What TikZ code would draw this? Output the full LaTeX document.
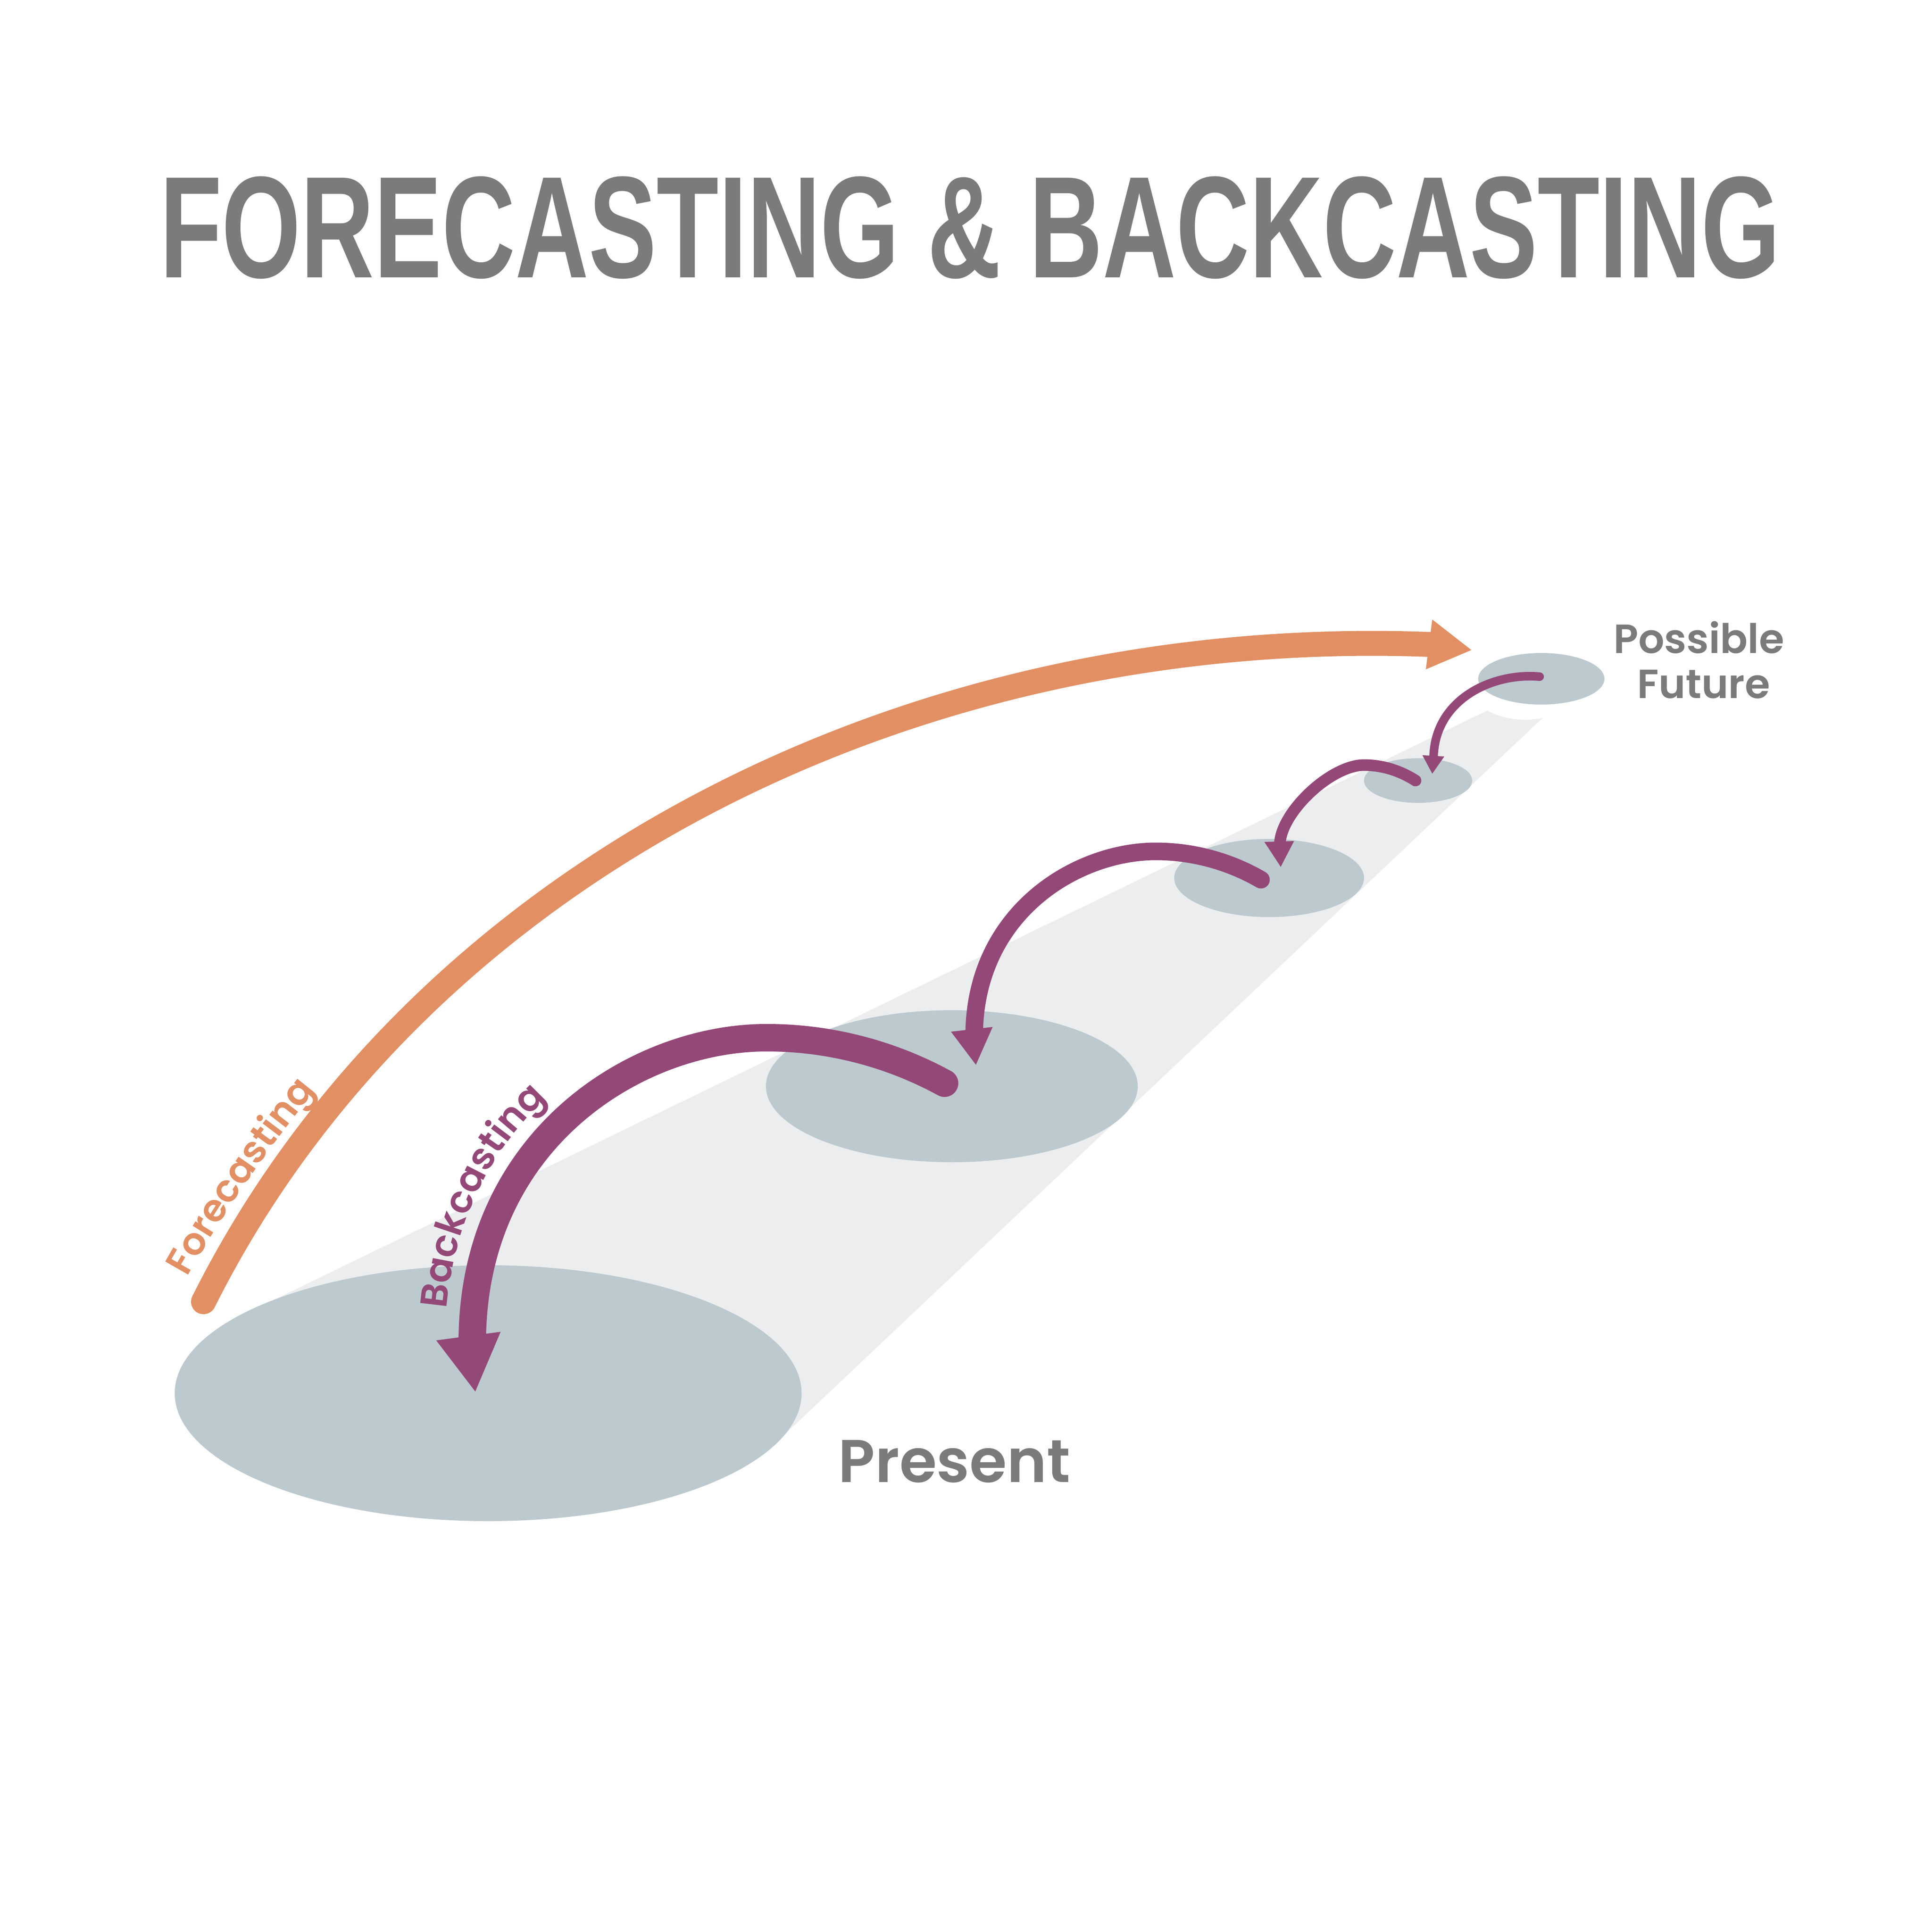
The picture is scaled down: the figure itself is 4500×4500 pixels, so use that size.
\documentclass[tikz,border=0pt]{standalone}
\usepackage{graphicx}
\usepackage{fontspec}
\usetikzlibrary{decorations.text}
\newfontfamily\titlefont{Liberation Sans}
\newfontfamily\popsemi{Poppins SemiBold}
\definecolor{orng}{HTML}{E28F63}
\definecolor{purp}{HTML}{944878}
\definecolor{ellfill}{HTML}{BCC9CE}
\definecolor{bandfill}{HTML}{ECEDEF}
\definecolor{txtgray}{HTML}{7B7B7B}
\tikzset{
  disc/.style={fill=ellfill},
  lbl/.style={inner sep=0pt, text=txtgray},
  fore/.style={draw=orng, line width=5.8mm, line cap=round},
  backA/.style={draw=purp, line width=6.4mm, line cap=round},
  backB/.style={draw=purp, line width=4.1mm, line cap=round},
  backC/.style={draw=purp, line width=2.7mm, line cap=round},
  backD/.style={draw=purp, line width=2.0mm, line cap=round},
  headP/.style={fill=purp},
  headO/.style={fill=orng}
}
\begin{document}
\begin{tikzpicture}[x=0.1mm,y=-0.1mm]
\fill[white] (0,0) rectangle (4500,4500);
\useasboundingbox (0,0) rectangle (4500,4500);

% light band
\fill[bandfill] (1137,3245) -- (588,3052) -- (3464,1655)
  .. controls (3495,1672) and (3530,1677) .. (3560,1677) -- (3592,1673)
  -- (1815,3353) -- cycle;

% discs
\fill[disc] (1137,3245) ellipse [x radius=730, y radius=298];
\fill[disc] (2217,2530) ellipse [x radius=433, y radius=177];
\fill[disc] (2956,2045) ellipse [x radius=221, y radius=91];
\fill[disc] (3303,1818) ellipse [x radius=126, y radius=52];
\fill[disc] (3590,1581) ellipse [x radius=147, y radius=60];

% forecasting arrow
\coordinate (fstart) at (474,3032);
\coordinate (fbase) at (3328,1501);
\coordinate (ftip) at (3427,1514);
\path[fore] (fstart) .. controls (960,2060) and (2080,1455) .. (fbase);
\fill[headO] (3336,1443) -- (ftip) -- (3321,1559) -- cycle;

% backcasting arrow A
\coordinate (astart) at (2200,2523);
\coordinate (atop) at (1787,2417);
\coordinate (aend) at (1100,3129);
\coordinate (atip) at (1107,3241);
\path[backA] (astart) .. controls (2074,2454) and (1931,2417) .. (atop)
  .. controls (1484,2416) and (1099,2654) .. (aend);
\fill[headP] (1016,3122) -- (atip) -- (1166,3102) -- cycle;

% backcasting arrow B
\coordinate (bstart) at (2937,2049);
\coordinate (btop) at (2692,1983);
\coordinate (bend) at (2269,2413);
\coordinate (btip) at (2273,2480);
\path[backB] (bstart) .. controls (2863,2006) and (2778,1983) .. (btop)
  .. controls (2506,1983) and (2269,2127) .. (bend);
\fill[headP] (2215,2403) -- (btip) -- (2312,2392) -- cycle;

% backcasting arrow C
\coordinate (cstart) at (3297,1818);
\coordinate (ctop) at (3177,1782);
\coordinate (cend) at (2981,1968);
\coordinate (ctip) at (2983,2019);
\path[backC] (cstart) .. controls (3261,1795) and (3220,1782) .. (ctop)
  .. controls (3099,1782) and (2981,1894) .. (cend);
\fill[headP] (2945,1961) -- (ctip) -- (3014,1959) -- cycle;

% backcasting arrow D
\coordinate (dstart) at (3586,1576);
\coordinate (dend) at (3339,1768);
\coordinate (dtip) at (3336,1802);
\path[backD] (dstart) .. controls (3475,1566) and (3339,1630) .. (dend);
\fill[headP] (3313,1759) -- (dtip) -- (3364,1762) -- cycle;

% curved labels
\path[decorate, decoration={text along path, text align=left,
  text={|\popsemi\fontsize{25pt}{30pt}\selectfont\color{orng}|Forecasting}}]
  (436,2975) .. controls (585,2710) and (795,2440) .. (1040,2218);
\path[decorate, decoration={text along path, text align=left,
  text={|\popsemi\fontsize{25pt}{30pt}\selectfont\color{purp}|Backcasting}}]
  (1040,3049) .. controls (1080,2581) and (1472,2352) .. (1794,2352);

% texts
\node[lbl, anchor=base] (title) at (2259.5,647)
  {\resizebox{377.5mm}{\height}{\titlefont\bfseries\fontsize{96pt}{100pt}\selectfont FORECASTING \& BACKCASTING}};
\node[lbl, anchor=base, font=\popsemi\fontsize{27pt}{32pt}\selectfont] (possible) at (3957,1521) {Possible};
\node[lbl, anchor=base, font=\popsemi\fontsize{27pt}{32pt}\selectfont] (future) at (3968,1626) {Future};
\node[lbl, anchor=base west, font=\popsemi\fontsize{40pt}{46pt}\selectfont] (present) at (1952,3452) {Present};
\end{tikzpicture}
\end{document}
